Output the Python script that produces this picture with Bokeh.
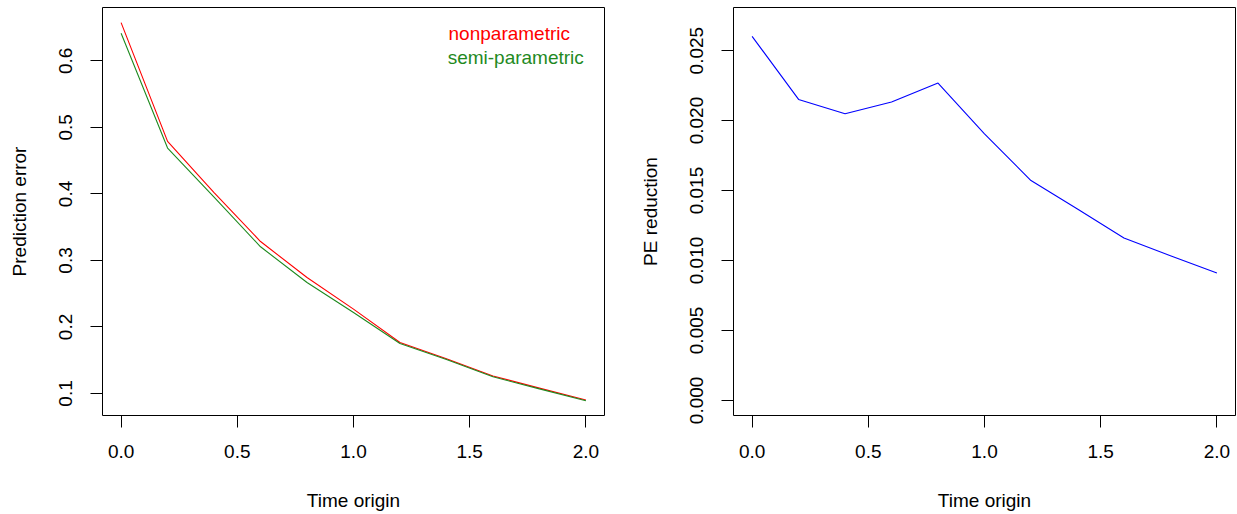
import math
from bokeh.plotting import figure
from bokeh.layouts import row
from bokeh.models import Range1d, FixedTicker, Label
from bokeh.embed import file_html
from bokeh.resources import INLINE

# ---- data ----
time_origin = [0.0, 0.2, 0.4, 0.6, 0.8, 1.0, 1.2, 1.4, 1.6, 1.8, 2.0]
pe_nonparametric = [0.6576, 0.4790, 0.4020, 0.3284, 0.2743, 0.2268, 0.1765, 0.1520, 0.1262, 0.1080, 0.0900]
pe_semiparametric = [0.6416, 0.4690, 0.3950, 0.3205, 0.2668, 0.2218, 0.1750, 0.1510, 0.1250, 0.1068, 0.0890]
pe_reduction = [0.02602, 0.02151, 0.02049, 0.02132, 0.02268, 0.01905, 0.01571, 0.01368, 0.01160, 0.01034, 0.00910]

x_ticks = [0.0, 0.5, 1.0, 1.5, 2.0]
x_tick_labels = ["0.0", "0.5", "1.0", "1.5", "2.0"]
y1_ticks = [0.1, 0.2, 0.3, 0.4, 0.5, 0.6]
y1_tick_labels = ["0.1", "0.2", "0.3", "0.4", "0.5", "0.6"]
y2_ticks = [0.0, 0.005, 0.01, 0.015, 0.02, 0.025]
y2_tick_labels = ["0.000", "0.005", "0.010", "0.015", "0.020", "0.025"]

FONT = "Liberation Sans"
FS = "19px"


def style(p, yticks, ylabels):
    p.grid.visible = False
    p.outline_line_color = "black"
    p.outline_line_width = 1
    p.outline_line_alpha = 1.0
    p.background_fill_color = "white"
    p.border_fill_color = "white"
    for ax in (p.xaxis[0], p.yaxis[0]):
        ax.axis_line_color = None
        ax.major_tick_line_color = "black"
        ax.major_tick_in = 0
        ax.major_tick_out = 12
        ax.minor_tick_line_color = None
        ax.major_label_text_font = FONT
        ax.major_label_text_font_size = FS
        ax.major_label_text_color = "black"
        ax.axis_label_text_font = FONT
        ax.axis_label_text_font_size = FS
        ax.axis_label_text_font_style = "normal"
        ax.axis_label_text_color = "black"
    p.xaxis[0].ticker = FixedTicker(ticks=x_ticks)
    p.xaxis[0].major_label_overrides = dict(zip(x_ticks, x_tick_labels))
    p.yaxis[0].ticker = FixedTicker(ticks=yticks)
    p.yaxis[0].major_label_overrides = dict(zip(yticks, ylabels))
    p.yaxis[0].major_label_orientation = "vertical"
    p.xaxis[0].axis_label = "Time origin"
    p.xaxis[0].major_label_standoff = 17
    p.xaxis[0].axis_label_standoff = 29
    p.yaxis[0].major_label_standoff = 18
    p.yaxis[0].axis_label_standoff = 27


p1 = figure(width=618, height=514, min_border_left=102, min_border_right=14,
            min_border_top=7, min_border_bottom=99,
            x_range=Range1d(-0.08, 2.08), y_range=Range1d(0.0668, 0.6803),
            output_backend="svg", toolbar_location=None)
style(p1, y1_ticks, y1_tick_labels)
p1.yaxis[0].axis_label = "Prediction error"
p1.line(time_origin, pe_nonparametric, line_color="#FF0000", line_width=1.1)
p1.line(time_origin, pe_semiparametric, line_color="#1F8A1F", line_width=1.1)
p1.add_layout(Label(x=1.409, y=0.6406, text="nonparametric", text_color="#FF0000",
                    text_font=FONT, text_font_size=FS, text_baseline="middle", text_align="left"))
p1.add_layout(Label(x=1.405, y=0.6045, text="semi-parametric", text_color="#1F8A1F",
                    text_font=FONT, text_font_size=FS, text_baseline="middle", text_align="left"))

p2 = figure(width=619, height=514, min_border_left=115, min_border_right=2,
            min_border_top=7, min_border_bottom=99,
            x_range=Range1d(-0.08, 2.08), y_range=Range1d(-0.00108, 0.02808),
            output_backend="svg", toolbar_location=None)
style(p2, y2_ticks, y2_tick_labels)
p2.yaxis[0].axis_label = "PE reduction"
p2.line(time_origin, pe_reduction, line_color="#0000FF", line_width=1.1)

layout = row(p1, p2)
open("out.html", "w").write(file_html(layout, INLINE))
